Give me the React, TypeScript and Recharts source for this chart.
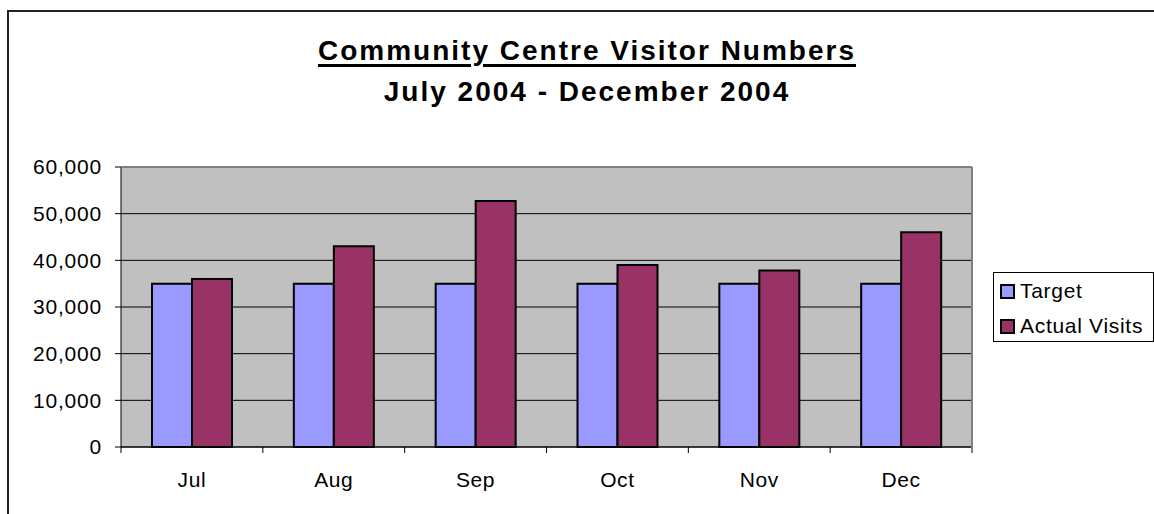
import { BarChart, Bar, XAxis, YAxis, CartesianGrid } from 'recharts';

const months = ['Jul', 'Aug', 'Sep', 'Oct', 'Nov', 'Dec'];
const target = [35000, 35000, 35000, 35000, 35000, 35000];
const actualVisits = [36000, 43000, 52700, 39000, 37800, 46000];
const yTicks = [0, 10000, 20000, 30000, 40000, 50000, 60000];

const data = months.map((m, i) => ({ month: m, Target: target[i], 'Actual Visits': actualVisits[i] }));

const font = 'Arial, "Liberation Sans", sans-serif';

const MonthTick = (props: any) => {
  const { x, payload, index } = props;
  const half = payload && payload.offset ? payload.offset : 70.9;
  const axisY = 447;
  return (
    <g>
      <line x1={x + half} x2={x + half} y1={axisY} y2={axisY + 6} stroke="#000" />
      {index === 0 && <line x1={x - half} x2={x - half} y1={axisY} y2={axisY + 6} stroke="#000" />}
      <text x={x} y={487} textAnchor="middle" fontSize={21} letterSpacing={0.6} fill="#000" fontFamily={font}>
        {payload.value}
      </text>
    </g>
  );
};

const LegendBox = () => (
  <div
    style={{
      position: 'absolute',
      left: 993,
      top: 272,
      width: 159,
      height: 68,
      border: '1px solid #000',
      background: '#fff',
      fontFamily: font,
      fontSize: 21,
      letterSpacing: 0.7,
      boxSizing: 'content-box',
    }}
  >
    {[
      { name: 'Target', color: '#9999FF' },
      { name: 'Actual Visits', color: '#993366' },
    ].map((it, i) => (
      <div key={it.name} style={{ display: 'flex', alignItems: 'center', height: 24, marginTop: i === 0 ? 6 : 11 }}>
        <span
          style={{
            display: 'inline-block',
            width: 11,
            height: 11,
            border: '2px solid #000',
            background: it.color,
            marginLeft: 6,
            marginRight: 5,
          }}
        />
        <span>{it.name}</span>
      </div>
    ))}
  </div>
);

export default function App() {
  return (
    <div style={{ position: 'absolute', left: 0, top: 0, width: 1154, height: 514, overflow: 'hidden', background: '#fff' }}>
      <div
        style={{
          position: 'absolute',
          left: 7,
          top: 10,
          width: 1300,
          height: 700,
          borderTop: '2px solid #222',
          borderLeft: '2px solid #222',
        }}
      />
      <div
        style={{
          position: 'absolute',
          left: 0,
          width: 1174,
          top: 30,
          textAlign: 'center',
          fontFamily: font,
          fontWeight: 'bold',
          fontSize: 28,
          letterSpacing: 2,
          lineHeight: '41px',
        }}
      >
        <div style={{ textDecoration: 'underline', textDecorationThickness: 3, textUnderlineOffset: 4 }}>
          Community Centre Visitor Numbers
        </div>
        <div>July 2004 - December 2004</div>
      </div>
      <div style={{ position: 'absolute', left: 0, top: 0 }}>
        <BarChart
          width={1154}
          height={514}
          data={data}
          margin={{ top: 167, right: 182, bottom: 0, left: 0 }}
          barGap={0}
          barSize={40}
        >
          <CartesianGrid vertical={false} stroke="#000" fill="#C0C0C0" fillOpacity={1} />
          <XAxis
            dataKey="month"
            height={67}
            axisLine={{ stroke: '#000' }}
            tickLine={false}
            tick={<MonthTick />}
            interval={0}
          />
          <YAxis
            width={121}
            domain={[0, 60000]}
            ticks={yTicks}
            interval={0}
            axisLine={{ stroke: '#000' }}
            tickLine={{ stroke: '#000' }}
            tickSize={6}
            tickMargin={13}
            tick={{ fill: '#000', fontSize: 21, fontFamily: font, letterSpacing: 0.8 }}
            tickFormatter={(v: number) => v.toLocaleString('en-US')}
          />
          <Bar dataKey="Target" fill="#9999FF" stroke="#000" strokeWidth={2} isAnimationActive={false} />
          <Bar dataKey="Actual Visits" fill="#993366" stroke="#000" strokeWidth={2} isAnimationActive={false} />
        </BarChart>
      </div>
      <div
        style={{
          position: 'absolute',
          left: 121,
          top: 167,
          width: 850,
          height: 280,
          borderTop: '1px solid #808080',
          borderRight: '2px solid #808080',
          pointerEvents: 'none',
        }}
      />
      <LegendBox />
    </div>
  );
}
